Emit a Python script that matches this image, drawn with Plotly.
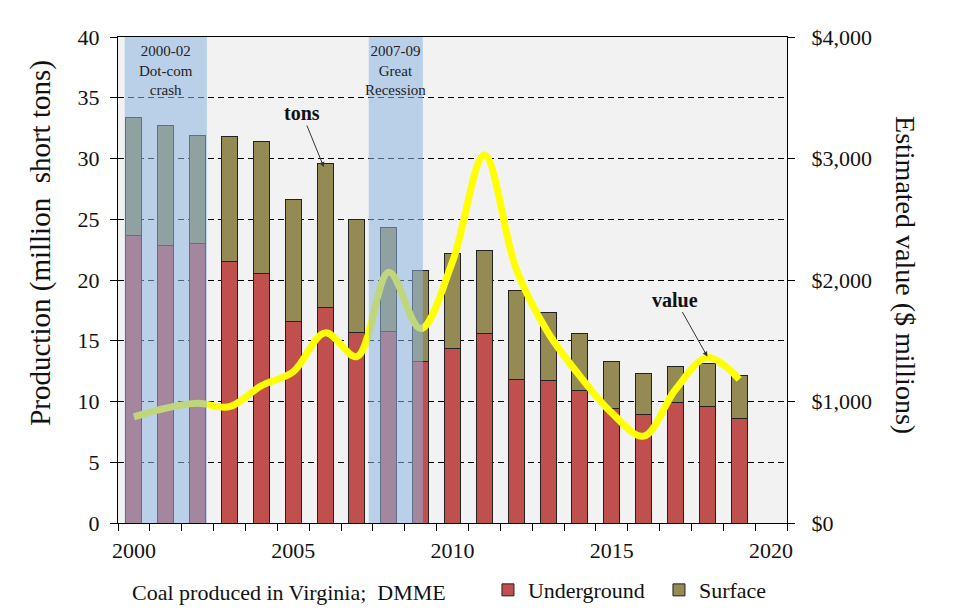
import plotly.graph_objects as go

# Virginia coal production (million short tons) and estimated value ($ millions)
years = list(range(2000, 2020))
underground = [23.7, 22.8, 23.0, 21.5, 20.5, 16.6, 17.7, 15.7, 15.8, 13.3,
               14.4, 15.6, 11.8, 11.7, 10.9, 9.4, 8.9, 9.9, 9.6, 8.6]
surface = [9.7, 9.9, 8.9, 10.3, 10.9, 10.0, 11.9, 9.3, 8.5, 7.5,
           7.8, 6.8, 7.3, 5.6, 4.7, 3.9, 3.4, 3.0, 3.5, 3.5]
value = [873, 945, 985, 957, 1130, 1245, 1565, 1370, 2064, 1600,
         2150, 3028, 2091, 1567, 1209, 906, 715, 1099, 1361, 1182]

year_ticks = [2000, 2005, 2010, 2015, 2020]
recessions = [(1999.71, 2002.29), (2007.37, 2009.07)]
recession_labels = ["2000-02<br>Dot-com<br>crash", "2007-09<br>Great<br>Recession"]

serif = "Liberation Serif, Times New Roman, serif"

fig = go.Figure()
fig.add_trace(go.Bar(x=years, y=underground, name="Underground", width=0.5,
                     marker=dict(color="#c0504d", line=dict(color="#222222", width=1))))
fig.add_trace(go.Bar(x=years, y=surface, name="Surface", width=0.5,
                     marker=dict(color="#948a54", line=dict(color="#222222", width=1))))
fig.add_trace(go.Scatter(x=years, y=value, yaxis="y2", mode="lines", showlegend=False,
                         line=dict(color="#ffff00", width=7, shape="spline", smoothing=1.0)))

# recession shading sits on top of everything, semi-transparent
for (x0, x1), label in zip(recessions, recession_labels):
    fig.add_vrect(x0=x0, x1=x1, fillcolor="rgba(141,180,226,0.55)", line_width=0, layer="above")
    fig.add_annotation(x=(x0 + x1) / 2, y=1.0, xref="x", yref="paper", yanchor="top",
                       yshift=-4, text=label, showarrow=False,
                       font=dict(family=serif, size=15, color="#222"))

fig.add_annotation(x=2005.96, y=29.3, text="<b>tons</b>", ax=-22, ay=-54,
                   font=dict(family=serif, size=20, color="#111"),
                   arrowhead=2, arrowsize=1, arrowwidth=1, arrowcolor="#333")
fig.add_annotation(x=2018.0, y=13.7, text="<b>value</b>", ax=-32, ay=-57,
                   font=dict(family=serif, size=20, color="#111"),
                   arrowhead=2, arrowsize=1, arrowwidth=1, arrowcolor="#333")

fig.add_annotation(x=-0.117, y=0.576, xref="paper", yref="paper", textangle=-90,
                   xanchor="center", yanchor="middle",
                   text="Production (million  short tons)", showarrow=False,
                   font=dict(family=serif, size=29, color="#111"))
fig.add_annotation(x=1.178, y=0.51, xref="paper", yref="paper", textangle=90,
                   xanchor="center", yanchor="middle",
                   text="Estimated value ($ millions)", showarrow=False,
                   font=dict(family=serif, size=28, color="#111"))
fig.add_annotation(x=0.256, y=-0.142, xref="paper", yref="paper",
                   xanchor="center", yanchor="middle",
                   text="Coal produced in Virginia;  DMME", showarrow=False,
                   font=dict(family=serif, size=22, color="#111"))

fig.update_layout(
    width=979, height=616,
    margin=dict(l=109.5, r=199.5, t=29, b=101),
    paper_bgcolor="white", plot_bgcolor="#f2f2f2",
    barmode="stack", bargap=0.5,
    font=dict(family=serif, size=22, color="#111"),
    legend=dict(orientation="h", x=0.553, y=-0.138, xanchor="left", yanchor="middle",
                traceorder="normal", entrywidth=126, font=dict(size=22),
                bgcolor="rgba(0,0,0,0)"),
    xaxis=dict(range=[1999.5, 2020.5], tickvals=year_ticks, ticks="", showgrid=False,
               zeroline=False, showline=True, linecolor="black", linewidth=1, mirror=True,
               ticklabelstandoff=8,
               minor=dict(tick0=1999.5, dtick=1, ticks="outside", ticklen=7,
                          tickcolor="black", showgrid=False)),
    yaxis=dict(range=[0, 40], dtick=5, showline=True, linecolor="black", linewidth=1,
               ticks="outside", ticklen=7, tickcolor="black", zeroline=False,
               ticklabelstandoff=6,
               showgrid=True, gridcolor="black", gridwidth=1, griddash="6px,4px"),
    yaxis2=dict(range=[0, 4000], dtick=1000, overlaying="y", side="right",
                tickprefix="$", tickformat=",", showgrid=False, zeroline=False,
                showline=True, linecolor="black", linewidth=1, ticklabelstandoff=12,
                ticks="outside", ticklen=7, tickcolor="black"),
)

fig.write_html("out.html")
